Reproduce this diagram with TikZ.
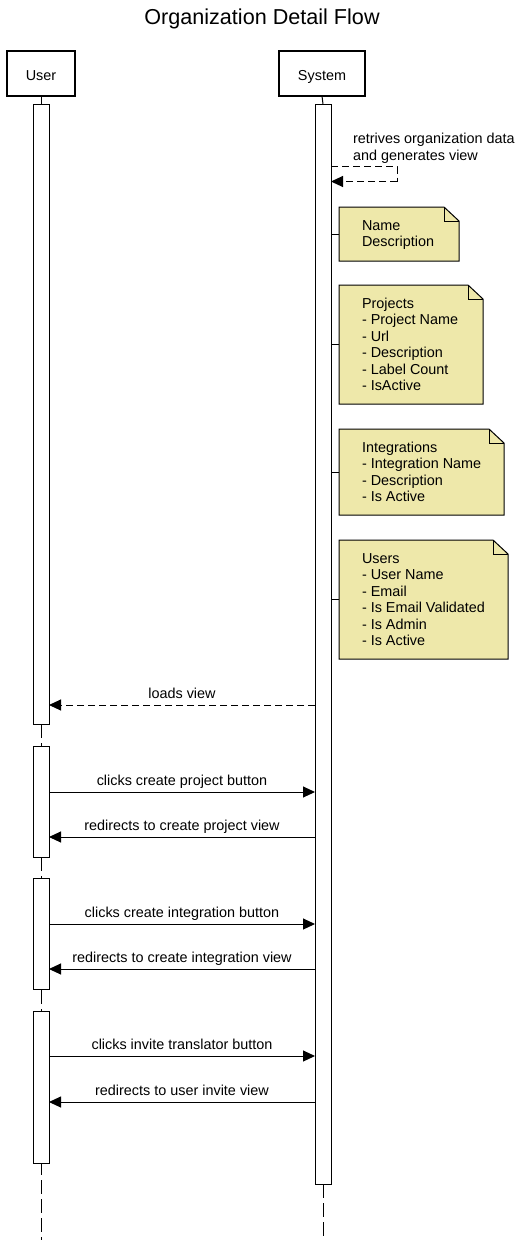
\documentclass[tikz,border=0pt]{standalone}
\usepackage{fontspec}
\setmainfont{Liberation Sans}
\usetikzlibrary{arrows.meta}
\definecolor{notefill}{RGB}{238,232,170}
\begin{document}
\begin{tikzpicture}[x=1pt,y=-1pt,
  every node/.style={inner sep=0pt,outer sep=0pt,font=\fontsize{14.4}{16.5}\selectfont},
  actor/.style={draw,line width=2pt,minimum width=68pt,minimum height=45pt,anchor=north west,text height=14.3pt,text depth=0pt},
  actbar/.style={draw,fill=white,line width=1pt,minimum width=16pt,anchor=north west},
  lifeline/.style={line width=1pt,dash pattern=on 14pt off 5pt},
  msg/.style={line width=1pt,-{Triangle[length=12pt,width=11pt]}},
  ret/.style={msg,dash pattern=on 7pt off 4pt},
  lbl/.style={anchor=base},
  notebox/.style={anchor=north west},
  notetxt/.style={anchor=base west,align=left},
  notepath/.style={draw,fill=notefill,line width=1pt,line join=miter},
  link/.style={line width=1pt}]
\useasboundingbox (0,0) rectangle (524,1240);
% title
\node[font=\fontsize{21.6}{24}\selectfont,anchor=base] (title) at (262,24.5) {Organization Detail Flow};
% actors
\node[actor] (user) at (7,51) {User};
\node[actor,minimum width=86pt] (sys) at (279,51) {System};
% lifelines
\coordinate (ubot) at (41,1240);
\coordinate (sbot) at (323,1240);
\draw[link] (user.south) -- (41,104);
\draw[link] (sys.south) -- (323,104);
\draw[lifeline] (41,724) -- (ubot);
\draw[lifeline] (323,1184) -- (sbot);
% activation bars
\node[actbar,minimum height=1080pt] (sa) at (315,104) {};
\node[actbar,minimum height=620pt] (ua1) at (33,104) {};
\node[actbar,minimum height=111pt] (ua2) at (33,746) {};
\node[actbar,minimum height=111pt] (ua3) at (33,878) {};
\node[actbar,minimum height=152pt] (ua4) at (33,1011) {};
% self message
\coordinate (s1) at (397,166.5);
\coordinate (s2) at (397,181.5);
\draw[ret,-] (sa.east |- s1) -- (s1) -- (s2);
\draw[ret] (s2) -- (sa.east |- s2);
\node[anchor=base west,align=left] (selfl) at (353,160) {retrives organization data\\and generates view};
% notes
\newcommand{\notedraw}[1]{%
  \draw[notepath] (#1.north west) -- ([xshift=-15pt]#1.north east) -- ([yshift=-14pt]#1.north east) -- (#1.south east) -- (#1.south west) -- cycle;
  \draw[line width=1pt] ([xshift=-15pt]#1.north east) -- ([xshift=-15pt,yshift=-14pt]#1.north east) -- ([yshift=-14pt]#1.north east);
  \draw[link] (sa.east |- #1.west) -- (#1.west);}
\node[notebox,minimum width=120pt,minimum height=54pt] (n1) at (339,207) {};
\notedraw{n1}
\node[notetxt] (n1t) at (362,246.5) {Name\\Description};
\node[notebox,minimum width=144pt,minimum height=119pt] (n2) at (339,285) {};
\notedraw{n2}
\node[notetxt] (n2t) at (362,390.5) {Projects\\- Project Name\\- Url\\- Description\\- Label Count\\- IsActive};
\node[notebox,minimum width=165pt,minimum height=86pt] (n3) at (339,429) {};
\notedraw{n3}
\node[notetxt] (n3t) at (362,501.5) {Integrations\\- Integration Name\\- Description\\- Is Active};
\node[notebox,minimum width=169pt,minimum height=119pt] (n4) at (339,540) {};
\notedraw{n4}
\node[notetxt] (n4t) at (362,645.5) {Users\\- User Name\\- Email\\- Is Email Validated\\- Is Admin\\- Is Active};
% messages
\coordinate (y1) at (182,705);
\coordinate (y2) at (182,792);
\coordinate (y3) at (182,837);
\coordinate (y4) at (182,924);
\coordinate (y5) at (182,969);
\coordinate (y6) at (182,1056);
\coordinate (y7) at (182,1102);
\draw[ret] (sa.west |- y1) -- (ua1.east |- y1);
\node[lbl] (l1) at (182,698.5) {loads view};
\draw[msg] (ua2.east |- y2) -- (sa.west |- y2);
\node[lbl] (l2) at (182,785.5) {clicks create project button};
\draw[msg] (sa.west |- y3) -- (ua2.east |- y3);
\node[lbl] (l3) at (182,830.5) {redirects to create project view};
\draw[msg] (ua3.east |- y4) -- (sa.west |- y4);
\node[lbl] (l4) at (182,917.5) {clicks create integration button};
\draw[msg] (sa.west |- y5) -- (ua3.east |- y5);
\node[lbl] (l5) at (182,962.5) {redirects to create integration view};
\draw[msg] (ua4.east |- y6) -- (sa.west |- y6);
\node[lbl] (l6) at (182,1049.5) {clicks invite translator button};
\draw[msg] (sa.west |- y7) -- (ua4.east |- y7);
\node[lbl] (l7) at (182,1095.5) {redirects to user invite view};
\end{tikzpicture}
\end{document}
